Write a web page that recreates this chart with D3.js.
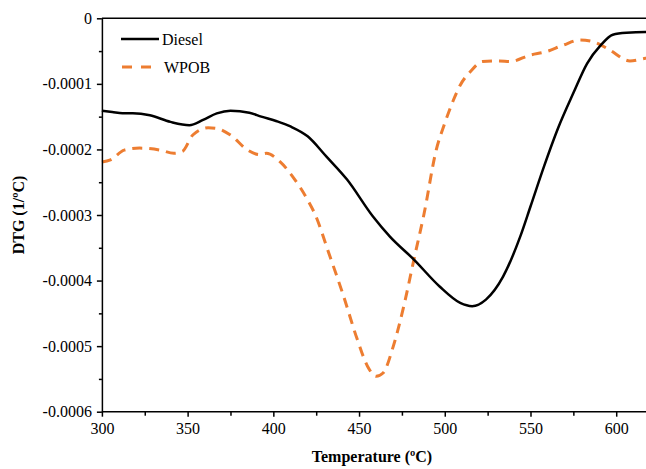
<!DOCTYPE html>
<html><head><meta charset="utf-8">
<script src="https://cdn.jsdelivr.net/npm/d3@7"></script>
<style>body{margin:0;background:#fff}svg{display:block}</style>
</head><body>
<svg id="c" width="646" height="469"></svg>
<script>
const dieselT = [300,306,312,318,328,340,351,359,367,375,386,393,402,410,420,431,443,458,468,482,497,509,516,524,534,544,550,558,566,575,583,591,598,606,617,620];
const dieselV = [-1.41,-1.43,-1.45,-1.45,-1.48,-1.58,-1.63,-1.55,-1.45,-1.41,-1.44,-1.50,-1.57,-1.65,-1.80,-2.11,-2.46,-3.02,-3.33,-3.68,-4.09,-4.34,-4.39,-4.29,-3.94,-3.33,-2.87,-2.25,-1.68,-1.14,-0.69,-0.41,-0.25,-0.22,-0.21,-0.21];
const wpobT = [300,305,313,322,334,342,347,353,362,367,375,385,392,396,404,412,420,424,433,441,449,455,460,464,470,476,482,488,495,500,505,509,515,522,532,538,550,559,569,579,587,596,608,617,620];
const wpobV = [-2.19,-2.16,-2.01,-1.98,-2.01,-2.06,-2.03,-1.78,-1.67,-1.68,-1.78,-2.01,-2.08,-2.06,-2.19,-2.44,-2.77,-2.97,-3.63,-4.24,-4.90,-5.31,-5.46,-5.41,-5.0,-4.40,-3.68,-2.97,-2.01,-1.60,-1.25,-1.02,-0.81,-0.66,-0.65,-0.66,-0.56,-0.51,-0.41,-0.33,-0.36,-0.48,-0.65,-0.61,-0.60];
const xTicks = [300,350,400,450,500,550,600];
const yTicks = [0,-0.0001,-0.0002,-0.0003,-0.0004,-0.0005,-0.0006];
const yTickLabels = ["0","-0.0001","-0.0002","-0.0003","-0.0004","-0.0005","-0.0006"];
const seriesNames = ["Diesel","WPOB"];

const svg = d3.select("#c");
const x = d3.scaleLinear().domain([300,620]).range([101.9,650.5]);
const y = d3.scaleLinear().domain([-0.0006,0]).range([411.7,18.3]);
const font = "'Liberation Serif','Times New Roman',serif";

const line = d3.line().x(d=>x(d[0])).y(d=>y(d[1]*1e-4)).curve(d3.curveMonotoneX);
svg.append("clipPath").attr("id","pc").append("rect").attr("x",101).attr("y",10).attr("width",560).attr("height",403);

const g = svg.append("g").attr("clip-path","url(#pc)");
g.append("path").datum(wpobT.map((t,i)=>[t,wpobV[i]])).attr("d",line)
  .attr("fill","none").attr("stroke","#ED7D31").attr("stroke-width",3).attr("stroke-dasharray","10,7");
g.append("path").datum(dieselT.map((t,i)=>[t,dieselV[i]])).attr("d",line)
  .attr("fill","none").attr("stroke","#000").attr("stroke-width",2.5);

// top line at y=0
svg.append("line").attr("x1",x(300)).attr("x2",646).attr("y1",y(0)).attr("y2",y(0)).attr("stroke","#000").attr("stroke-width",1.5);

// x axis
const xa = svg.append("g").attr("transform",`translate(0,${y(-0.0006)})`)
  .call(d3.axisBottom(x).tickValues(d3.range(325,620,50)).tickSize(4).tickFormat(""));
const xa2 = svg.append("g").attr("transform",`translate(0,${y(-0.0006)})`)
  .call(d3.axisBottom(x).tickValues(xTicks).tickSize(5).tickSizeOuter(0).tickPadding(6));
xa.select(".domain").remove();
xa2.select(".domain").attr("d",`M${x(300)},0H646`);
[xa,xa2].forEach(a=>{a.selectAll("line,path").attr("stroke","#000").attr("stroke-width",1.5);});
xa2.selectAll("text").attr("font-family",font).attr("font-size",16).attr("fill","#000");

// y axis
const ya = svg.append("g").attr("transform",`translate(${x(300)},0)`)
  .call(d3.axisLeft(y).tickValues(d3.range(-0.00055,0,0.0001)).tickSize(3).tickFormat(""));
ya.select(".domain").remove();
const ya2 = svg.append("g").attr("transform",`translate(${x(300)},0)`)
  .call(d3.axisLeft(y).tickValues(yTicks).tickSize(5).tickSizeOuter(0).tickPadding(5).tickFormat((d,i)=>yTickLabels[i]));
[ya,ya2].forEach(a=>{a.selectAll("line,path").attr("stroke","#000").attr("stroke-width",1.5);});
ya2.selectAll("text").attr("font-family",font).attr("font-size",16).attr("fill","#000");

// titles
svg.append("text").attr("x",372).attr("y",462).attr("text-anchor","middle")
  .attr("font-family",font).attr("font-size",16).attr("font-weight","bold").text("Temperature (ºC)");
svg.append("text").attr("transform","translate(24,215) rotate(-90)").attr("text-anchor","middle")
  .attr("font-family",font).attr("font-size",16).attr("font-weight","bold").text("DTG (1/ºC)");

// legend
const lg = svg.append("g");
lg.append("line").attr("x1",121).attr("x2",159).attr("y1",39).attr("y2",39).attr("stroke","#000").attr("stroke-width",2.5);
lg.append("line").attr("x1",122).attr("x2",152).attr("y1",67).attr("y2",67).attr("stroke","#ED7D31").attr("stroke-width",3).attr("stroke-dasharray","10,9");
lg.append("text").attr("x",162).attr("y",45).attr("font-family",font).attr("font-size",16).text(seriesNames[0]);
lg.append("text").attr("x",164).attr("y",73).attr("font-family",font).attr("font-size",16).text(seriesNames[1]);
</script>
</body></html>
